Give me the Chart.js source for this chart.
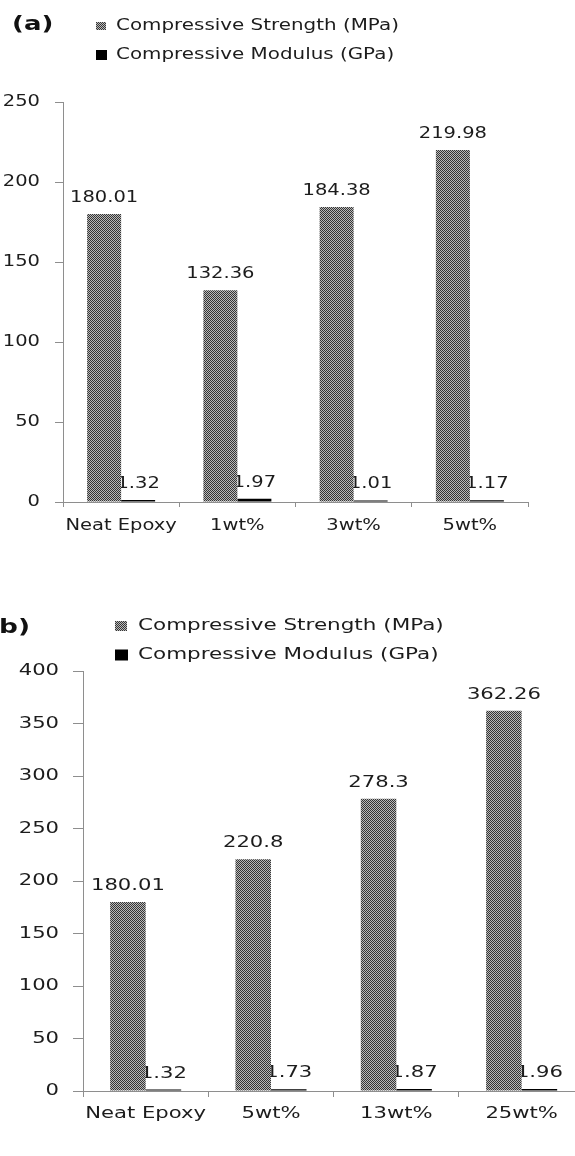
<!DOCTYPE html>
<html>
<head>
<meta charset="utf-8">
<script src="https://cdn.jsdelivr.net/npm/chart.js@4.4.1/dist/chart.umd.min.js"></script>
<style>
  html, body { margin: 0; padding: 0; background: #fff; width: 575px; height: 1156px; overflow: hidden; }
  .panel { position: absolute; left: 0; width: 575px; overflow: hidden; }
  #panelA { top: 0; height: 565px; }
  #panelB { top: 570px; height: 586px; }
  canvas { display: block; }
</style>
</head>
<body>
<div class="panel" id="panelA"><canvas id="chartA" width="575" height="565"></canvas></div>
<div class="panel" id="panelB"><canvas id="chartB" width="610" height="586"></canvas></div>
<script>
// Series names shared by both panels
const seriesNames = ['Compressive Strength (MPa)', 'Compressive Modulus (GPa)'];

// Panel (a)
const categoriesA = ['Neat Epoxy', '1wt%', '3wt%', '5wt%'];
const strengthA = [180.01, 132.36, 184.38, 219.98];
const modulusA = [1.32, 1.97, 1.01, 1.17];
const yMaxA = 250;
const yStepA = 50;

// Panel (b)
const categoriesB = ['Neat Epoxy', '5wt%', '13wt%', '25wt%'];
const strengthB = [180.01, 220.8, 278.3, 362.26];
const modulusB = [1.32, 1.73, 1.87, 1.96];
const yMaxB = 400;
const yStepB = 50;

const FONT = '"DejaVu Sans", Verdana, sans-serif';
const TEXT = '#1c1c1c';
const AXIS = '#8e8e8e';

// Fine checkered dither used for the strength bars
function ditherPattern() {
  const c = document.createElement('canvas');
  c.width = 2; c.height = 2;
  const g = c.getContext('2d');
  g.fillStyle = '#bababa';
  g.fillRect(0, 0, 2, 2);
  g.fillStyle = '#353535';
  g.fillRect(0, 0, 1, 1);
  g.fillRect(1, 1, 1, 1);
  return g.createPattern(c, 'repeat');
}
const dither = ditherPattern();

// Wide lettering: every string on the canvas is drawn stretched horizontally
// around its anchor point, so alignment (left / center / right) is preserved.
function widenText(ctx, k) {
  const fill = ctx.fillText.bind(ctx);
  ctx.fillText = function (text, x, y) {
    this.save();
    this.translate(x, y);
    this.scale(k, 1);
    fill(text, 0, 0);
    this.restore();
  };
  return ctx;
}

// Value labels, legend block and panel letter
const panelPlugin = {
  id: 'panel',
  beforeDatasetsDraw(chart, args, o) { drawValues(chart, 1, o); },
  afterDatasetsDraw(chart, args, o) { drawValues(chart, 0, o); },
  afterDraw(chart, args, o) {
    const ctx = chart.ctx;
    ctx.save();
    // panel letter
    ctx.font = 'bold ' + o.letterSize + 'px ' + FONT;
    ctx.fillStyle = '#111';
    ctx.textAlign = 'left';
    ctx.textBaseline = 'middle';
    ctx.fillText(o.letter, o.letterX, o.letterY);
    // legend
    ctx.font = o.legendSize + 'px ' + FONT;
    chart.data.datasets.forEach((ds, i) => {
      const y = o.legendY[i];
      const sw = o.swatch[i];
      ctx.fillStyle = ds.backgroundColor;
      ctx.fillRect(o.swatchX, y - sw[1] / 2, sw[0], sw[1]);
      ctx.fillStyle = TEXT;
      ctx.fillText(ds.label, o.legendTextX, y);
    });
    ctx.restore();
  }
};

function drawValues(chart, idx, o) {
  const ctx = chart.ctx;
  const meta = chart.getDatasetMeta(idx);
  const ds = chart.data.datasets[idx];
  ctx.save();
  ctx.font = o.valueSize + 'px ' + FONT;
  ctx.fillStyle = TEXT;
  ctx.textAlign = 'center';
  ctx.textBaseline = 'alphabetic';
  meta.data.forEach((bar, i) => {
    ctx.fillText(String(ds.data[i]), bar.x, bar.y - 12);
  });
  ctx.restore();
}

function buildChart(id, cats, strength, modulus, yMax, yStep, g) {
  const ctx = widenText(document.getElementById(id).getContext('2d'), g.stretch);
  return new Chart(ctx, {
    type: 'bar',
    data: {
      labels: cats,
      datasets: [
        { label: seriesNames[0], data: strength, backgroundColor: dither, borderWidth: 0,
          categoryPercentage: g.catPct, barPercentage: 1 },
        { label: seriesNames[1], data: modulus, backgroundColor: '#000000', borderWidth: 0,
          categoryPercentage: g.catPct, barPercentage: 1 }
      ]
    },
    options: {
      responsive: false,
      animation: false,
      events: [],
      layout: { padding: { top: g.top, right: g.right, left: 0, bottom: 0 } },
      plugins: {
        legend: { display: false },
        tooltip: { enabled: false },
        panel: g.panel
      },
      scales: {
        x: {
          grid: { drawOnChartArea: false, drawTicks: true, tickLength: g.xTick, color: AXIS, offset: true },
          border: { color: AXIS, width: 1 },
          ticks: { color: TEXT, font: { family: FONT, size: g.fontSize }, padding: g.xPad, maxRotation: 0, autoSkip: false },
          afterFit(s) { s.height = g.xHeight; }
        },
        y: {
          min: 0, max: yMax,
          grid: { drawOnChartArea: false, drawTicks: true, tickLength: g.yTick, color: AXIS },
          border: { color: AXIS, width: 1 },
          ticks: { stepSize: yStep, color: TEXT, font: { family: FONT, size: g.fontSize }, padding: g.yPad },
          afterFit(s) { s.width = g.left; }
        }
      }
    },
    plugins: [panelPlugin]
  });
}

buildChart('chartA', categoriesA, strengthA, modulusA, yMaxA, yStepA, {
  stretch: 1.3, catPct: 0.585, top: 102, right: 47, left: 63, xHeight: 63,
  xTick: 5, yTick: 8, xPad: 10, yPad: 15, fontSize: 15,
  panel: {
    valueSize: 15,
    letter: '(a)', letterSize: 20, letterX: 12, letterY: 25,
    legendSize: 15.3, legendTextX: 116, legendY: [26, 55],
    swatchX: 96, swatch: [[10, 8], [11, 10]]
  }
});

buildChart('chartB', categoriesB, strengthB, modulusB, yMaxB, yStepB, {
  stretch: 1.32, catPct: 0.567, top: 101, right: 25.7, left: 83, xHeight: 65,
  xTick: 6, yTick: 10, xPad: 7, yPad: 14, fontSize: 16,
  panel: {
    valueSize: 16,
    letter: '(b)', letterSize: 20, letterX: -13, letterY: 58,
    legendSize: 16.3, legendTextX: 138, legendY: [56, 85],
    swatchX: 115, swatch: [[12, 10], [13, 11]]
  }
});
</script>
</body>
</html>
